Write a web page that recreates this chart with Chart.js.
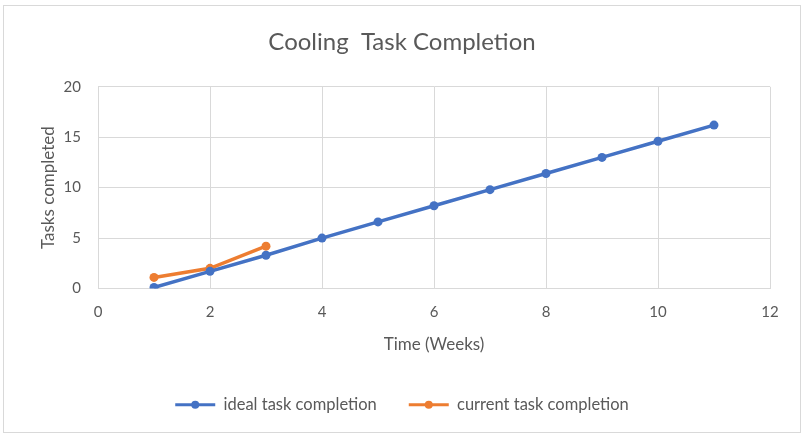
<!DOCTYPE html>
<html>
<head>
<meta charset="utf-8">
<script src="https://cdn.jsdelivr.net/npm/chart.js@4/dist/chart.umd.min.js"></script>
<style>
  html, body { margin: 0; padding: 0; background: #ffffff; }
  #wrap { position: absolute; left: 0; top: 0; width: 804px; height: 435px; }
</style>
</head>
<body>
<div id="wrap"><canvas id="c" width="804" height="435"></canvas></div>
<script>
const chartTitle = 'Cooling  Task Completion';
const xAxisTitle = 'Time (Weeks)';
const yAxisTitle = 'Tasks completed';
const seriesNames = ['ideal task completion', 'current task completion'];
const idealWeeks = [1, 2, 3, 4, 5, 6, 7, 8, 9, 10, 11];
const idealTasks = [0.1, 1.7, 3.3, 5.0, 6.6, 8.2, 9.8, 11.4, 13.0, 14.6, 16.2];
const currentWeeks = [1, 2, 3];
const currentTasks = [1.1, 2.0, 4.2];
const xTicks = [0, 2, 4, 6, 8, 10, 12];
const yTicks = [0, 5, 10, 15, 20];

const FONT = 'Lato, "Open Sans", sans-serif';
const TXT = '#595959';
const GRID = '#d9d9d9';
const BLUE = '#4472C4';
const ORANGE = '#ED7D31';

function toPoints(xs, ys) { return xs.map((x, i) => ({ x: x, y: ys[i] })); }

const frame = {
  id: 'frame',
  beforeDraw(chart) {
    const ctx = chart.ctx;
    ctx.save();
    ctx.fillStyle = '#ffffff';
    ctx.fillRect(0, 0, chart.width, chart.height);
    ctx.strokeStyle = '#d9d9d9';
    ctx.lineWidth = 1;
    ctx.strokeRect(3.5, 5.5, 797, 427);
    ctx.restore();
  },
  afterDraw(chart) {
    const lg = chart.legend;
    if (!lg || !lg.legendHitBoxes) return;
    const ctx = chart.ctx;
    const bw = lg.options.labels.boxWidth;
    lg.legendHitBoxes.forEach((hb, i) => {
      const ds = chart.data.datasets[i];
      ctx.save();
      ctx.fillStyle = ds.borderColor;
      ctx.beginPath();
      ctx.arc(hb.left + bw / 2, hb.top + hb.height / 2, 4, 0, Math.PI * 2);
      ctx.fill();
      ctx.restore();
    });
  }
};

new Chart(document.getElementById('c'), {
  type: 'scatter',
  data: {
    datasets: [
      {
        label: seriesNames[0],
        data: toPoints(idealWeeks, idealTasks),
        showLine: true,
        borderColor: BLUE,
        backgroundColor: BLUE,
        borderWidth: 3.5,
        pointRadius: 4.5,
        pointBorderWidth: 0,
        tension: 0
      },
      {
        label: seriesNames[1],
        data: toPoints(currentWeeks, currentTasks),
        showLine: true,
        borderColor: ORANGE,
        backgroundColor: ORANGE,
        borderWidth: 3.5,
        pointRadius: 4.5,
        pointBorderWidth: 0,
        tension: 0
      }
    ]
  },
  options: {
    responsive: false,
    animation: false,
    devicePixelRatio: 1,
    layout: { padding: { left: 34, right: 34, top: 0, bottom: 12 } },
    plugins: {
      tooltip: { enabled: false },
      title: {
        display: true,
        text: chartTitle,
        color: TXT,
        font: { family: FONT, size: 24, weight: 'normal' },
        padding: { top: 28, bottom: 30 }
      },
      legend: {
        display: true,
        position: 'bottom',
        labels: {
          color: TXT,
          font: { family: FONT, size: 16.5 },
          boxWidth: 40,
          boxHeight: 3,
          padding: 32,
          generateLabels(chart) {
            const items = Chart.defaults.plugins.legend.labels.generateLabels(chart);
            items.forEach(it => { it.lineWidth = 0; it.strokeStyle = 'rgba(0,0,0,0)'; });
            return items;
          }
        }
      }
    },
    scales: {
      x: {
        type: 'linear',
        min: 0,
        max: 12,
        afterBuildTicks(scale) { scale.ticks = xTicks.map(v => ({ value: v })); },
        afterFit(scale) { scale.height = 76; },
        grid: { color: GRID, drawTicks: false, lineWidth: 1 },
        border: { color: GRID },
        ticks: { color: TXT, font: { family: FONT, size: 15 }, padding: 15, maxRotation: 0 },
        title: {
          display: true,
          text: xAxisTitle,
          color: TXT,
          font: { family: FONT, size: 17 },
          padding: { top: 0, bottom: 10 }
        }
      },
      y: {
        type: 'linear',
        min: 0,
        max: 20,
        afterBuildTicks(scale) { scale.ticks = yTicks.map(v => ({ value: v })); },
        afterFit(scale) { scale.width = 64; },
        grid: { color: GRID, drawTicks: false, lineWidth: 1 },
        border: { color: GRID },
        ticks: { color: TXT, font: { family: FONT, size: 15 }, padding: 17 },
        title: {
          display: true,
          text: yAxisTitle,
          color: TXT,
          font: { family: FONT, size: 17 },
          padding: { top: 4, bottom: 0 }
        }
      }
    }
  },
  plugins: [frame]
});
</script>
</body>
</html>
